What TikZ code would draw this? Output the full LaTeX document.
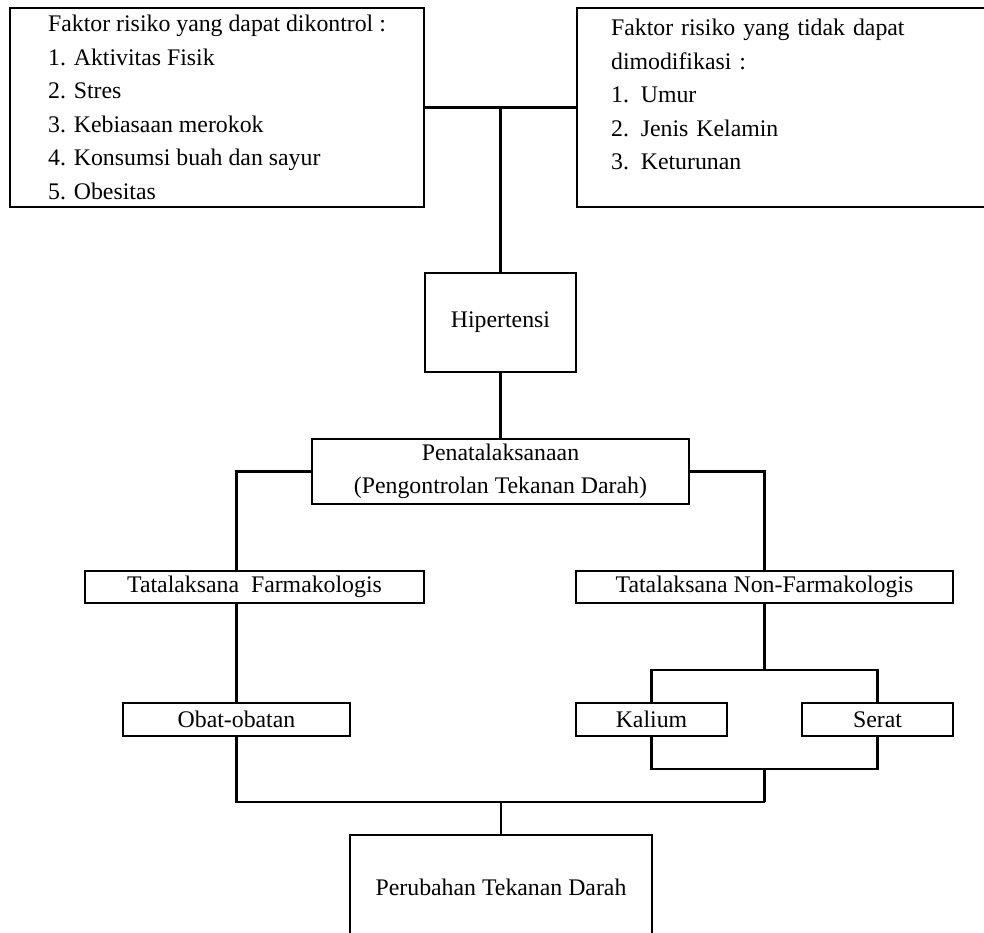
\documentclass[tikz,border=0pt]{standalone}
\usepackage{fontspec}
\setmainfont{Liberation Serif}
\begin{document}
\begin{tikzpicture}[x=1pt, y=-1pt, line width=2.2pt,
		every node/.style = {shape=rectangle, draw, align=center, inner sep=0pt,
			font=\fontsize{23.8}{33.5}\selectfont},
		daftar/.style = {align=left, minimum height=199pt}]
	\clip (0,0) rectangle (984,932);
	\node[daftar, minimum width=414pt] (kontrol) at (217,107.5) {Faktor risiko yang dapat dikontrol :\\ 1. Aktivitas Fisik\\ 2. Stres\\ 3. Kebiasaan merokok\\ 4. Konsumsi buah dan sayur\\ 5. Obesitas};
	\node[daftar, anchor=west, text width=360pt, inner xsep=34pt] (tidak) at (576,107.5) {Faktor risiko yang tidak dapat\\ dimodifikasi :\\ 1. Umur\\ 2. Jenis Kelamin\\ 3. Keturunan\\[-18pt] \strut};
	\node[minimum width=151pt, minimum height=99pt] (hiper) at (500.5,322.5) {Hipertensi};
	\node[minimum width=377pt, minimum height=65pt] (penata) at (500.5,471.5) {Penatalaksanaan\\ (Pengontrolan Tekanan Darah)};
	\node[minimum width=339pt, minimum height=32pt] (farma) at (254.5,587) {Tatalaksana\ \ Farmakologis};
	\node[minimum width=377pt, minimum height=32pt] (nonfarma) at (764.5,587) {Tatalaksana Non-Farmakologis};
	\node[minimum width=227pt, minimum height=33pt] (obat) at (236.5,719.5) {Obat-obatan};
	\node[minimum width=151pt, minimum height=33pt] (kalium) at (651.5,719.5) {Kalium};
	\node[minimum width=151pt, minimum height=33pt] (serat) at (877.5,719.5) {Serat};
	\node[minimum width=302pt, minimum height=105pt] (ubah) at (501,887.5) {Perubahan Tekanan Darah};
	\coordinate (simpul) at (500.5,107.5);
	\coordinate (atas) at (764.5,670);
	\coordinate (bawah) at (764.5,769);
	\coordinate (gabung) at (501,802);
	\draw (kontrol.east) -- (tidak.west);
	\draw (simpul) -- (hiper.north);
	\draw (hiper.south) -- (penata.north);
	\draw (penata.west) -| (obat.north |- farma.north);
	\draw (penata.east) -| (nonfarma.north);
	\draw (farma.south -| obat.north) -- (obat.north);
	\draw (nonfarma.south) -- (atas);
	\draw (kalium.north) |- (atas) -| (serat.north);
	\draw (kalium.south) |- (bawah) -| (serat.south);
	\draw (bawah) -- (bawah |- gabung);
	\draw (obat.south) |- (bawah |- gabung);
	\draw (gabung) -- (ubah.north);
\end{tikzpicture}
\end{document}
